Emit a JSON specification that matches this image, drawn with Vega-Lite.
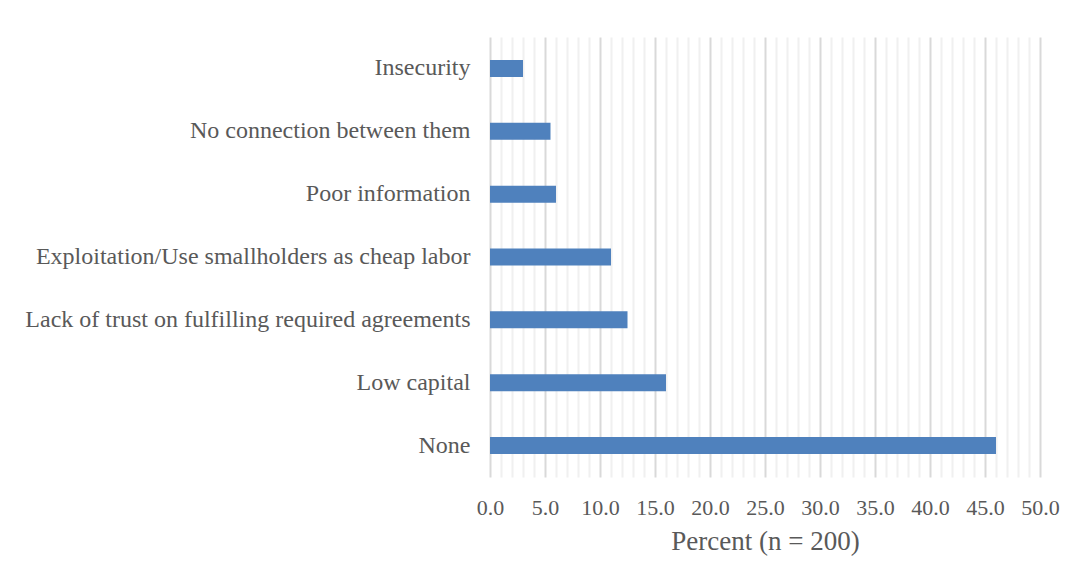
{
  "$schema": "https://vega.github.io/schema/vega-lite/v6.json",
  "autosize": "none",
  "width": 550,
  "height": 440,
  "padding": {"left": 490, "top": 37, "right": 41, "bottom": 110},
  "background": "white",
  "config": {
    "view": {"stroke": null},
    "font": "Liberation Serif"
  },
  "data": {
    "values": [
      {"category": "Insecurity", "percent": 3.0},
      {"category": "No connection between them", "percent": 5.5},
      {"category": "Poor information", "percent": 6.0},
      {"category": "Exploitation/Use smallholders as cheap labor", "percent": 11.0},
      {"category": "Lack of trust on fulfilling required agreements", "percent": 12.5},
      {"category": "Low capital", "percent": 16.0},
      {"category": "None", "percent": 46.0}
    ]
  },
  "mark": {"type": "bar", "color": "#4F81BD"},
  "encoding": {
    "y": {
      "field": "category",
      "type": "nominal",
      "sort": null,
      "scale": {"paddingInner": 0.73, "paddingOuter": 0.365},
      "axis": {
        "title": null,
        "domain": false,
        "ticks": false,
        "labelPadding": 20,
        "labelFont": "Liberation Serif",
        "labelFontSize": 24,
        "labelColor": "#595959",
        "labelLimit": 600
      }
    },
    "x": {
      "field": "percent",
      "type": "quantitative",
      "scale": {"domain": [0, 50], "nice": false},
      "axis": {
        "title": "Percent (n = 200)",
        "titleFont": "Liberation Serif",
        "titleFontSize": 27,
        "titleFontWeight": "normal",
        "titleColor": "#595959",
        "titlePadding": 10,
        "values": [0,1,2,3,4,5,6,7,8,9,10,11,12,13,14,15,16,17,18,19,20,21,22,23,24,25,26,27,28,29,30,31,32,33,34,35,36,37,38,39,40,41,42,43,44,45,46,47,48,49,50],
        "labelExpr": "datum.value % 5 === 0 ? format(datum.value, '.1f') : ''",
        "labelOverlap": false,
        "labelFlush": false,
        "labelFont": "Liberation Serif",
        "labelFontSize": 22,
        "labelColor": "#595959",
        "labelPadding": 20,
        "domain": false,
        "ticks": false,
        "grid": true,
        "gridWidth": 2,
        "gridColor": {"condition": {"test": "datum.value % 5 === 0", "value": "#d9d9d9"}, "value": "#f0f0f0"}
      }
    }
  }
}
